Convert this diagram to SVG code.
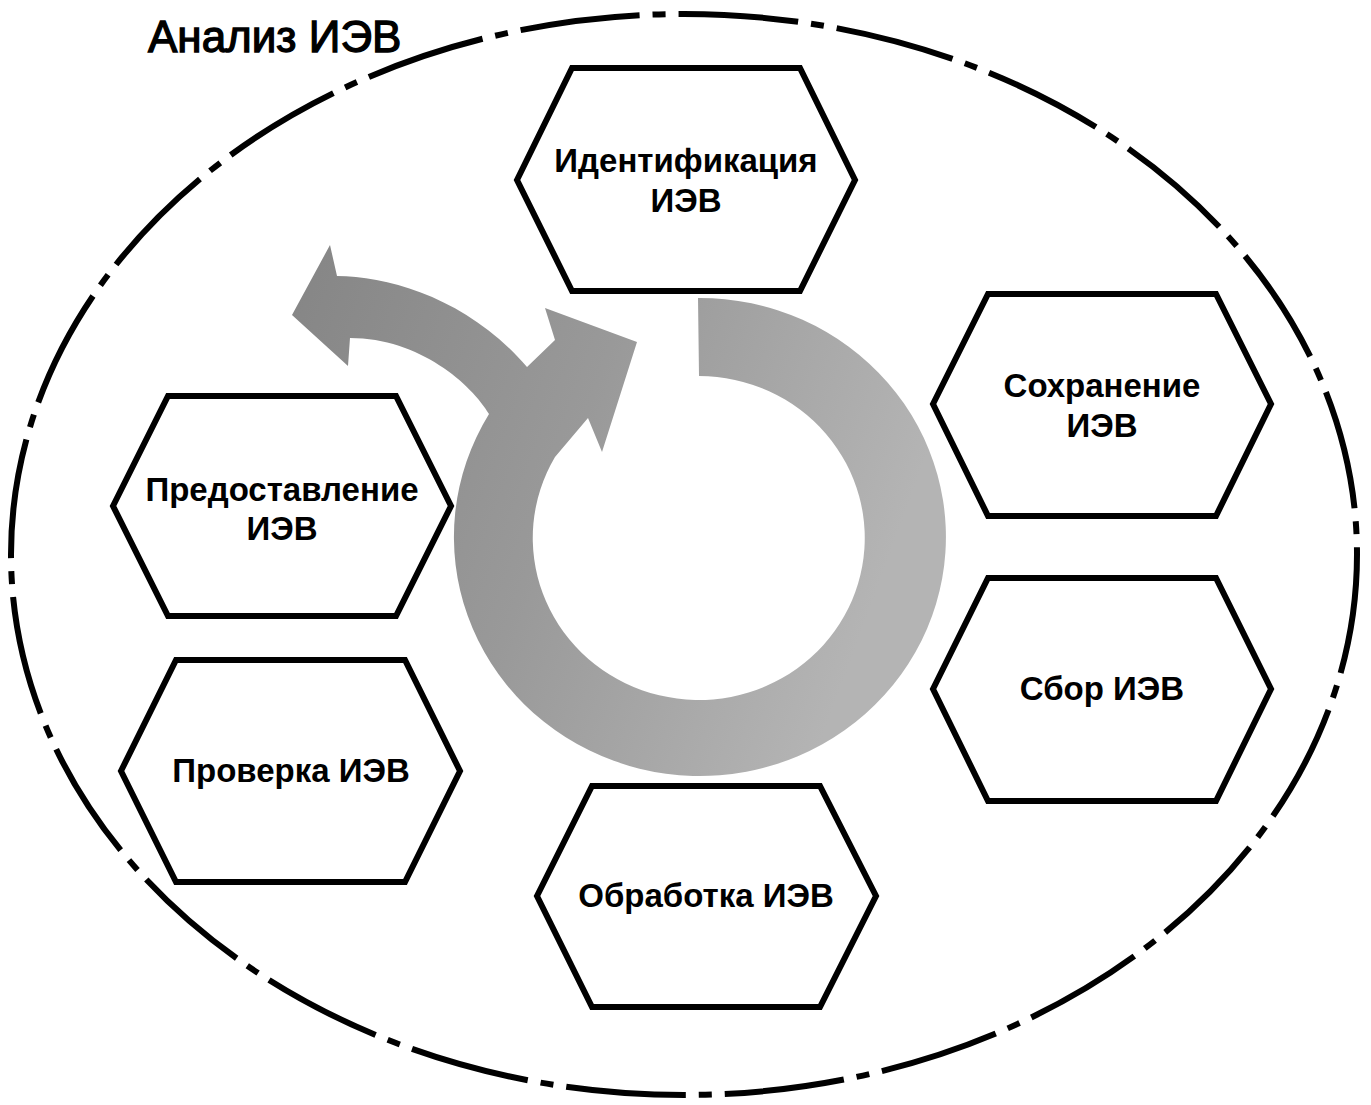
<svg xmlns="http://www.w3.org/2000/svg" width="1371" height="1105" viewBox="0 0 1371 1105">
  <style>
    .hex { fill: #ffffff; stroke: #000000; stroke-width: 6; stroke-linejoin: miter; }
    .lbl { font-family: "Liberation Sans", Arial, sans-serif; font-weight: bold; font-size: 33px; fill: #000000; text-anchor: middle; }
    .title { font-family: "Liberation Sans", Arial, sans-serif; font-size: 44px; fill: #000000; stroke: #000000; stroke-width: 1.3; }
    .frame { fill: none; stroke: #000000; stroke-width: 6; stroke-dasharray: 120 13 13 13; }
  </style>
  <defs>
    <linearGradient id="ringGrad" x1="0" y1="0" x2="1" y2="0.3">
      <stop offset="0" stop-color="#858585"/>
      <stop offset="0.5" stop-color="#999999"/>
      <stop offset="1" stop-color="#b4b4b4"/>
    </linearGradient>
  </defs>
  <rect x="0" y="0" width="1371" height="1105" fill="#ffffff"/>

  <g id="frame">
    <ellipse class="frame" cx="684" cy="554.5" rx="673" ry="540.5"/>
    <text class="title" x="148" y="52">Анализ ИЭВ</text>
  </g>

  <g id="connectors">
    <path fill="url(#ringGrad)" d="M 698,298 A 246,239 0 1,1 489,414 C 472,385 420,338 350,338 L 348,366 L 292,315 L 330,245 L 337,276 C 390,276 470,300 527,367 L 555,340 L 545,308 L 637,342 L 602,452 L 588,418 L 555,457 A 166,162 0 1,0 699,376 Z"/>
  </g>

  <g id="node-identification">
    <polygon class="hex" points="517,180 572,68 800,68 855,180 800,291 572,291"/>
    <text class="lbl" x="686" y="172">Идентификация</text>
    <text class="lbl" x="686" y="212">ИЭВ</text>
  </g>
  <g id="node-storage">
    <polygon class="hex" points="933,404 988,294 1216,294 1271,404 1216,516 988,516"/>
    <text class="lbl" x="1102" y="397">Сохранение</text>
    <text class="lbl" x="1102" y="437">ИЭВ</text>
  </g>
  <g id="node-collection">
    <polygon class="hex" points="933,689 988,578 1216,578 1271,689 1216,801 988,801"/>
    <text class="lbl" x="1102" y="700">Сбор ИЭВ</text>
  </g>
  <g id="node-processing">
    <polygon class="hex" points="537,896 592,786 820,786 876,896 820,1007 592,1007"/>
    <text class="lbl" x="706" y="907">Обработка ИЭВ</text>
  </g>
  <g id="node-verification">
    <polygon class="hex" points="121,771 176,660 405,660 460,771 405,882 176,882"/>
    <text class="lbl" x="291" y="782">Проверка ИЭВ</text>
  </g>
  <g id="node-provision">
    <polygon class="hex" points="113,506 168,396 396,396 451,506 396,616 168,616"/>
    <text class="lbl" x="282" y="501">Предоставление</text>
    <text class="lbl" x="282" y="540">ИЭВ</text>
  </g>
</svg>
